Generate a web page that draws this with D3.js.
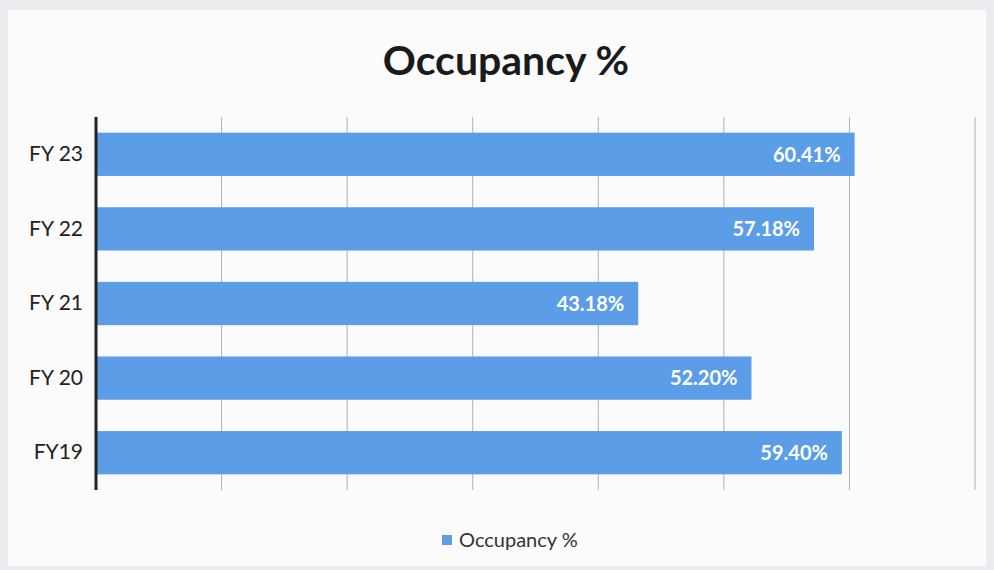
<!DOCTYPE html>
<html>
<head>
<meta charset="utf-8">
<script src="https://cdn.jsdelivr.net/npm/d3@7"></script>
<style>
  body { margin: 0; background: #ececf0; }
  svg { display: block; }
</style>
</head>
<body>
<div id="chart"></div>
<script>
const years = ["FY 23", "FY 22", "FY 21", "FY 20", "FY19"];
const occupancy = [60.41, 57.18, 43.18, 52.20, 59.40];
const valueLabels = ["60.41%", "57.18%", "43.18%", "52.20%", "59.40%"];
const xTicks = [0, 10, 20, 30, 40, 50, 60, 70];

const width = 994,
    height = 570,
    plotLeft = 96,
    plotRight = 975,
    plotTop = 117,
    plotBottom = 490,
    barColor = "#5b9de6";

const svg = d3.select("#chart")
    .append("svg")
    .attr("width", width)
    .attr("height", height);

// chart paper
svg.append("rect")
    .attr("x", 8).attr("y", 10)
    .attr("width", 978).attr("height", 556)
    .attr("fill", "#fbfbfc");

const x = d3.scaleLinear().domain([0, 70]).range([plotLeft, plotRight]);
const y = d3.scaleBand().domain(years).range([plotTop, plotBottom]).paddingInner(0.42).paddingOuter(0.21);

// gridlines
svg.append("g")
    .selectAll("line")
    .data(xTicks.slice(1))
    .enter().append("line")
    .attr("x1", d => x(d)).attr("x2", d => x(d))
    .attr("y1", plotTop).attr("y2", plotBottom)
    .attr("stroke", "#b0b0b4")
    .attr("stroke-width", 1);

// bars
svg.append("g")
    .selectAll("rect")
    .data(years)
    .enter().append("rect")
    .attr("x", x(0))
    .attr("y", d => y(d))
    .attr("width", (d, i) => x(occupancy[i]) - x(0))
    .attr("height", y.bandwidth())
    .attr("fill", barColor);

// value labels
svg.append("g")
    .selectAll("text")
    .data(years)
    .enter().append("text")
    .attr("x", (d, i) => x(occupancy[i]) - 14)
    .attr("y", d => y(d) + y.bandwidth() / 2)
    .attr("dy", "0.36em")
    .attr("text-anchor", "end")
    .attr("font-family", "Lato, 'Open Sans', sans-serif")
    .attr("font-weight", "bold")
    .attr("font-size", 20)
    .attr("fill", "#ffffff")
    .text((d, i) => valueLabels[i]);

// category axis
const yAxis = svg.append("g")
    .attr("transform", "translate(" + plotLeft + ",0)")
    .call(d3.axisLeft(y).tickSize(0).tickPadding(13));
yAxis.select(".domain")
    .attr("stroke", "#222")
    .attr("stroke-width", 3)
    .attr("d", "M0," + plotTop + "V" + plotBottom);
yAxis.selectAll("text")
    .attr("font-family", "Lato, 'Open Sans', sans-serif")
    .attr("font-size", 21)
    .attr("fill", "#222");

// title
svg.append("text")
    .attr("x", 506).attr("y", 75)
    .attr("text-anchor", "middle")
    .attr("font-family", "Lato, 'Open Sans', sans-serif")
    .attr("font-weight", "bold")
    .attr("font-size", 41)
    .attr("fill", "#1a1a1a")
    .text("Occupancy %");

// legend
const legend = svg.append("g").attr("transform", "translate(442,535)");
legend.append("rect")
    .attr("width", 10).attr("height", 10)
    .attr("fill", barColor);
legend.append("text")
    .attr("x", 17).attr("y", 5)
    .attr("dy", "0.36em")
    .attr("font-family", "Lato, 'Open Sans', sans-serif")
    .attr("font-size", 20)
    .attr("fill", "#333")
    .text("Occupancy %");
</script>
</body>
</html>
